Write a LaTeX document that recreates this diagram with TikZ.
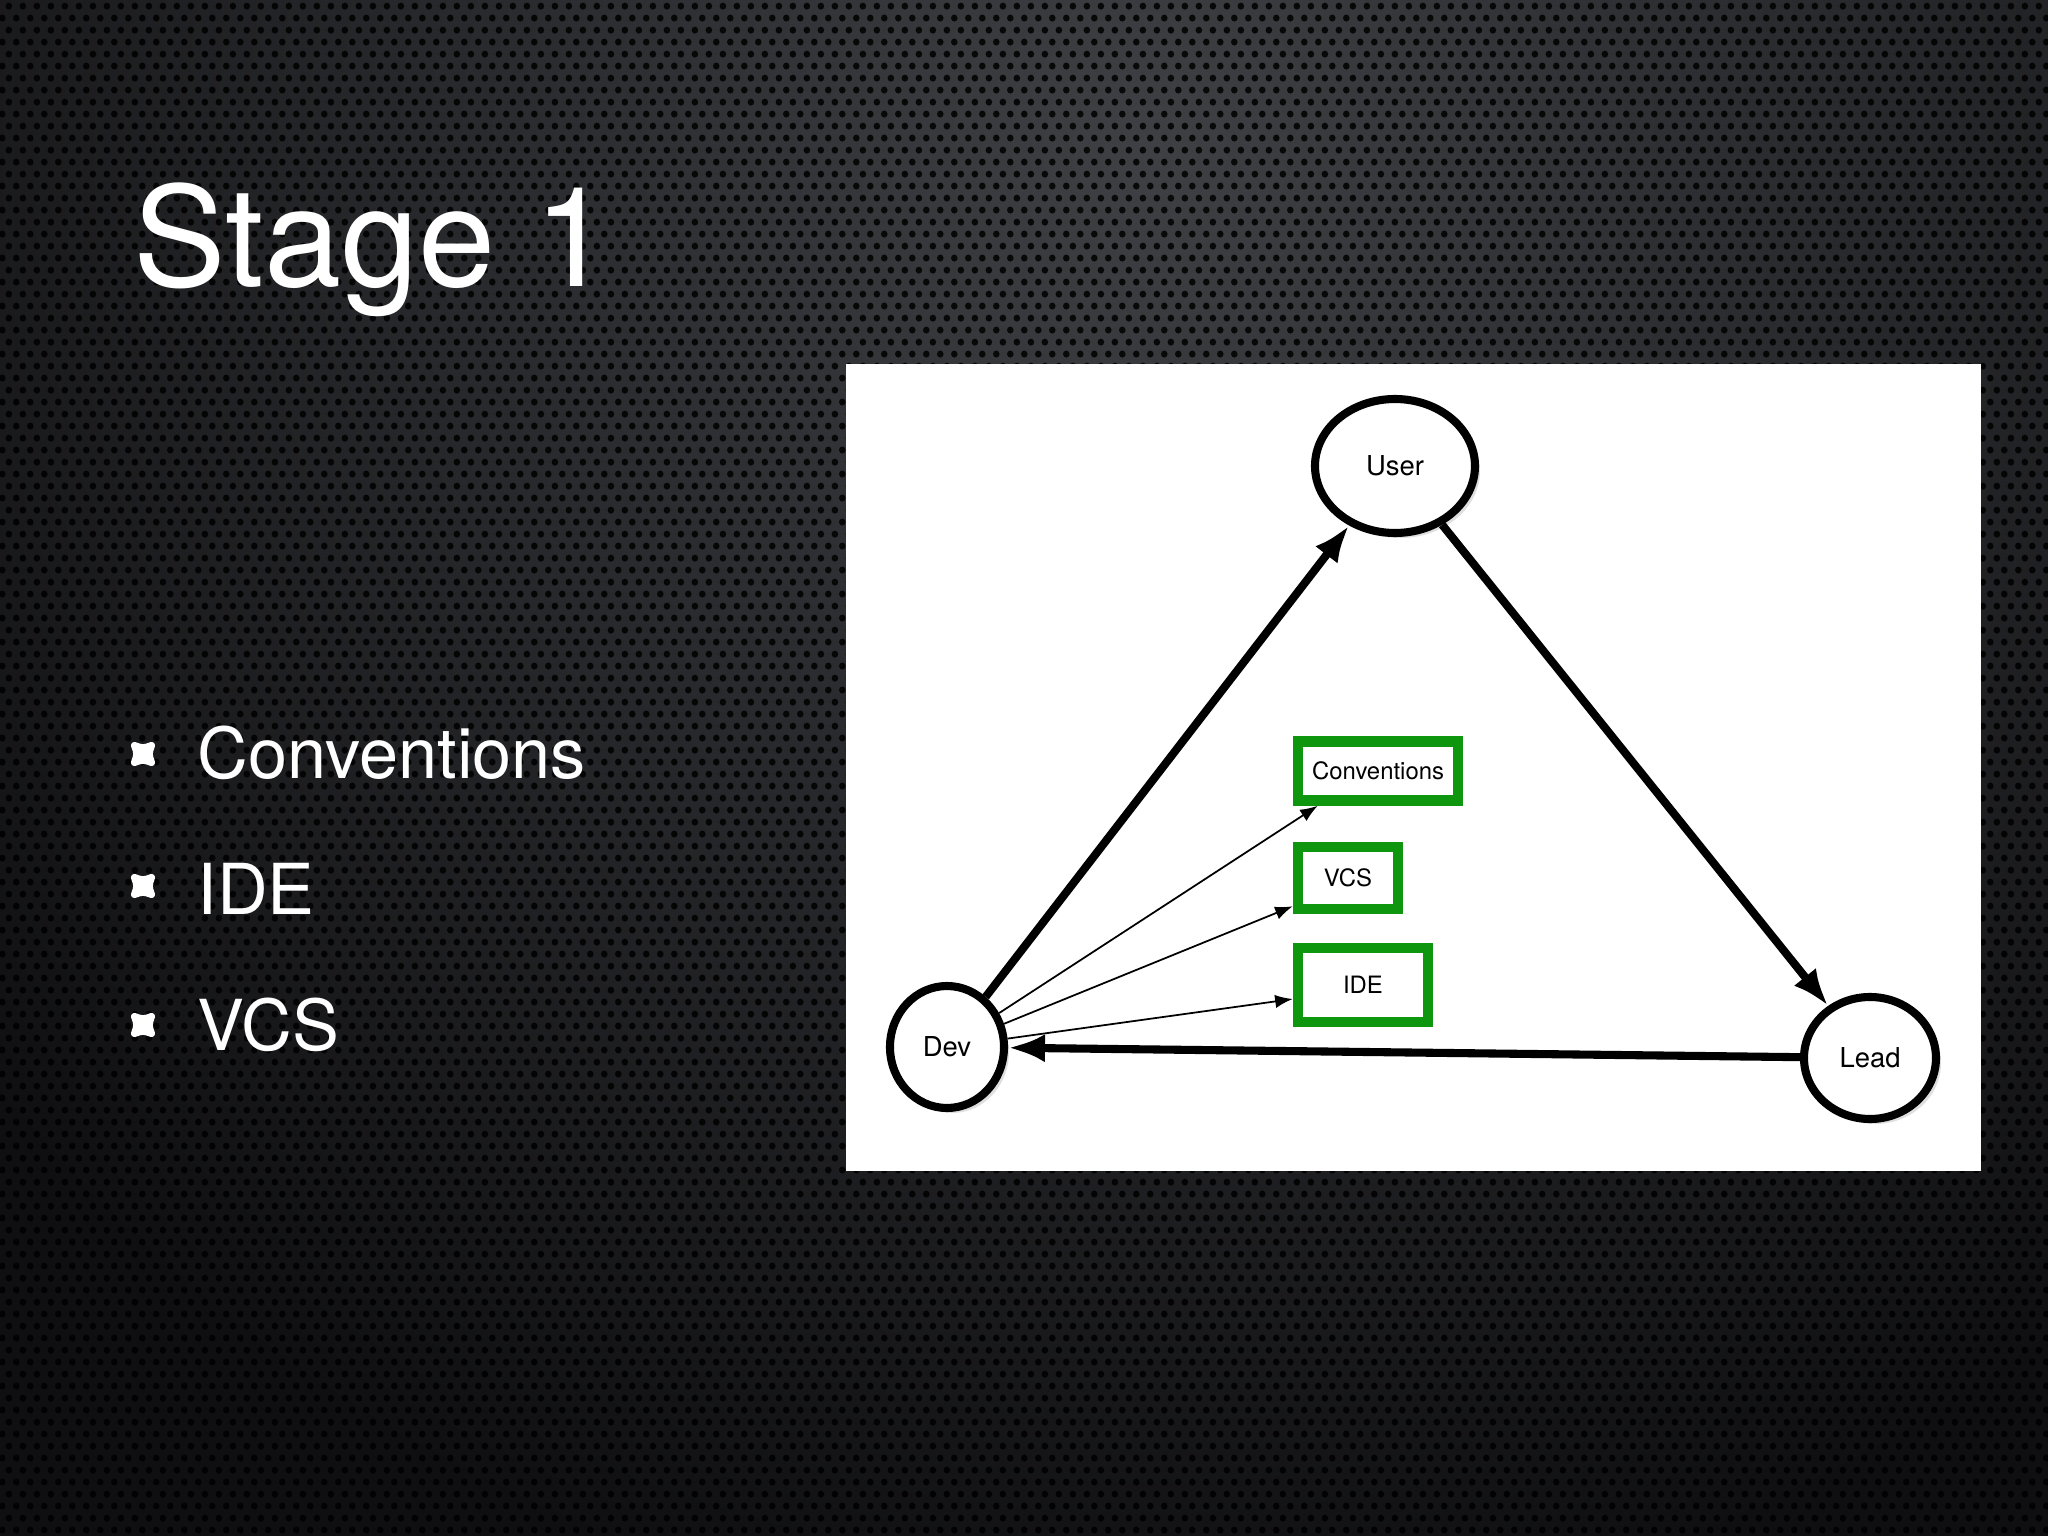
\documentclass[tikz,border=0pt]{standalone}
\usepackage{fontspec}
\setmainfont{TeX Gyre Heros}
\usetikzlibrary{arrows.meta, shapes.geometric, shadows, patterns}
\definecolor{bgdark}{RGB}{15,15,17}
\definecolor{bglight}{RGB}{62,64,68}
\definecolor{boxgreen}{RGB}{14,150,14}
\pgfdeclarepatternformonly{holes}{\pgfpointorigin}{\pgfqpoint{4pt}{6.8pt}}{\pgfqpoint{4pt}{6.8pt}}{%
  \pgfpathcircle{\pgfqpoint{1pt}{1.7pt}}{1pt}
  \pgfpathcircle{\pgfqpoint{3pt}{5.1pt}}{1pt}
  \pgfusepath{fill}}
\tikzset{
  person/.style={ellipse, draw=black, line width=2.3pt, fill=white, inner sep=0pt,
    drop shadow={shadow xshift=0.05cm, shadow yshift=-0.05cm, opacity=0.25},
    font=\fontsize{7.8}{9}\selectfont},
  tool/.style={rectangle, draw=boxgreen, line width=3pt, fill=white, inner sep=0pt,
    drop shadow={shadow xshift=0.04cm, shadow yshift=-0.04cm, opacity=0.25},
    font=\fontsize{6.8}{8}\selectfont},
  item/.style={anchor=base west, inner sep=0pt, text=white, font=\fontsize{20}{24}\selectfont},
  bigarrow/.style={line width=2.3pt, -{Latex[length=10.5pt,width=8pt]}},
  smallarrow/.style={line width=0.5pt, -{Latex[length=5pt,width=3.8pt]}}
}
\begin{document}
\begin{tikzpicture}
    \useasboundingbox (0,0) rectangle (20.48,-15.36);
    \fill[bgdark] (0,0) rectangle (20.48,-15.36);
    \begin{scope}
        \clip (0,0) rectangle (20.48,-15.36);
        \shade[inner color=bglight, outer color=bgdark] (11.5,-1.5) circle (15);
        \fill[pattern=holes, pattern color=black, opacity=0.85] (0,0) rectangle (20.48,-15.36);
    \end{scope}
    \node (title) at (1.33,-2.87) [anchor=base west, inner sep=0pt, text=white, font=\fontsize{39.5}{46}\selectfont] {Stage 1};
    \foreach \y in {7.54,8.86,10.25}
        \filldraw[white, line width=2pt, line join=round, shift={(1.43,-\y)}]
            (-0.085,-0.085) .. controls (0,-0.055) .. (0.085,-0.085) .. controls (0.055,0) .. (0.085,0.085)
            .. controls (0,0.055) .. (-0.085,0.085) .. controls (-0.055,0) .. cycle;
    \node (bconv) at (1.97,-7.79) [item] {Conventions};
    \node (bide) at (1.97,-9.14) [item] {IDE};
    \node (bvcs) at (1.97,-10.50) [item] {VCS};
    % diagram panel
    \fill[white] (8.46,-3.64) rectangle (19.81,-11.71);
    \node (user) at (13.95,-4.66) [person, minimum width=1.6cm, minimum height=1.34cm] {User};
    \node (dev) at (9.47,-10.47) [person, minimum width=1.14cm, minimum height=1.22cm] {Dev};
    \node (lead) at (18.70,-10.58) [person, minimum width=1.32cm, minimum height=1.22cm] {Lead};
    \node (conv) at (13.78,-7.71) [tool, minimum width=1.6cm, minimum height=0.59cm] {Conventions};
    \node (vcs) at (13.48,-8.78) [tool, minimum width=1.0cm, minimum height=0.62cm] {VCS};
    \node (ide) at (13.63,-9.85) [tool, minimum width=1.3cm, minimum height=0.74cm] {IDE};
    \draw[bigarrow] (dev) -- (user);
    \draw[bigarrow] (user) -- (lead);
    \draw[bigarrow] (lead) -- (dev);
    \draw[smallarrow] (dev) -- ([xshift=0.25cm]conv.south west);
    \draw[smallarrow] (dev) -- ([yshift=0.08cm]vcs.south west);
    \draw[smallarrow] (dev) -- ([yshift=-0.14cm]ide.west);
\end{tikzpicture}
\end{document}
